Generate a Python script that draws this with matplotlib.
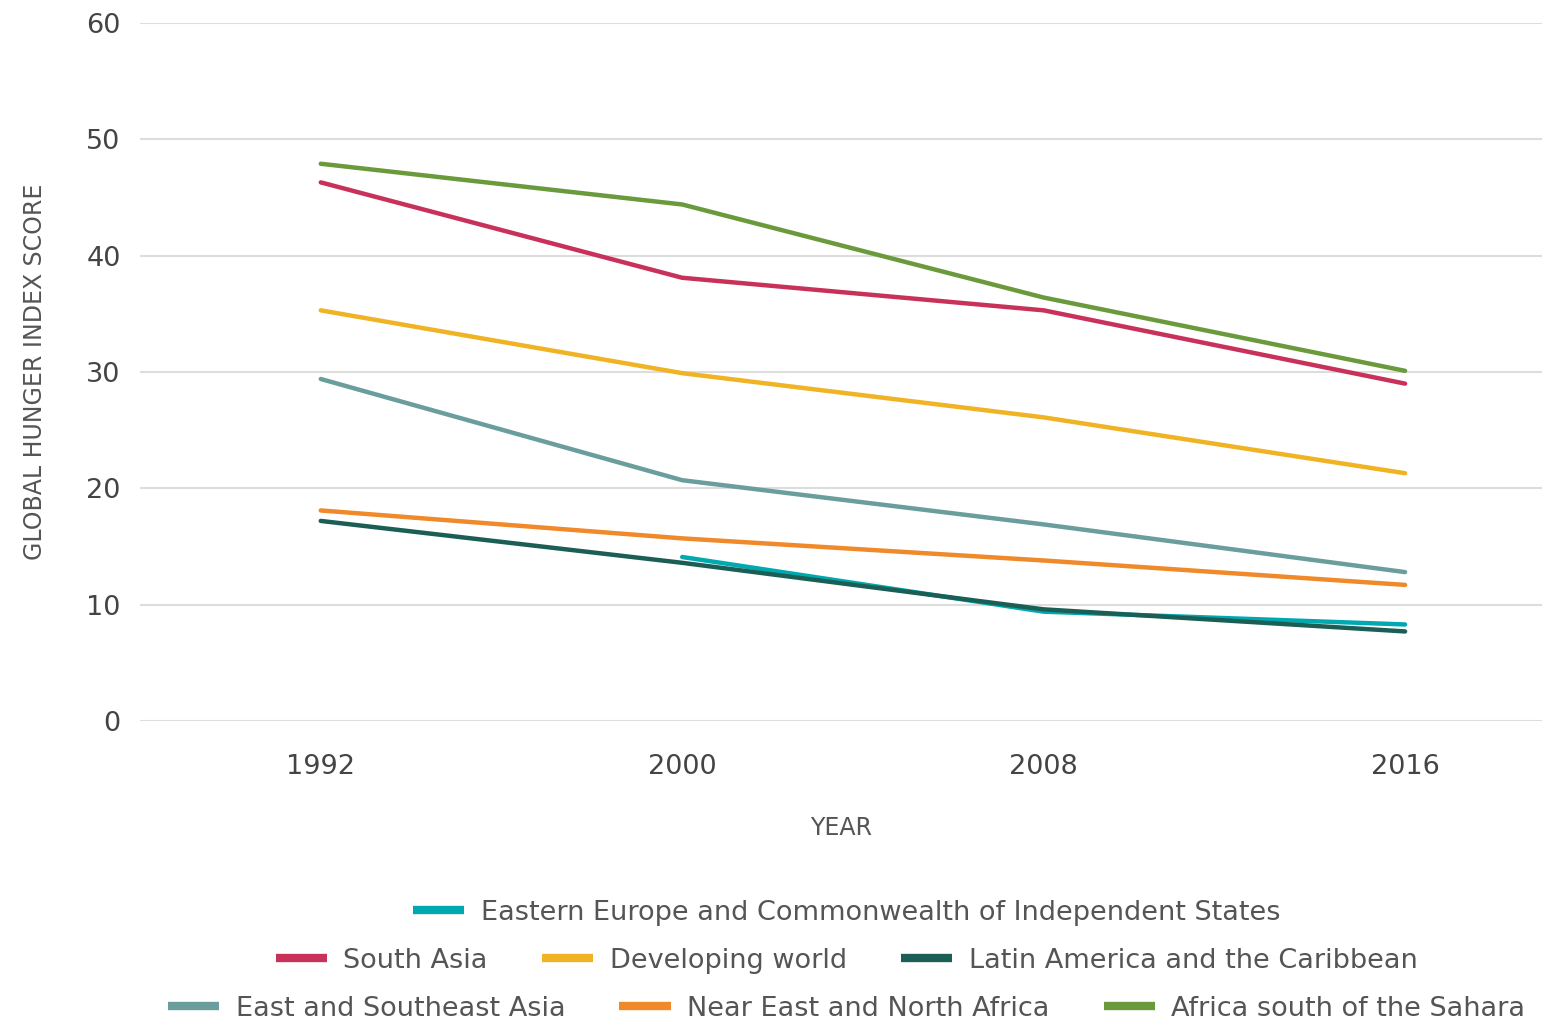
import matplotlib.pyplot as plt

# Global Hunger Index scores by region
years = [1992, 2000, 2008, 2016]

africa_south = [47.9, 44.4, 36.4, 30.1]
south_asia = [46.3, 38.1, 35.3, 29.0]
developing = [35.3, 29.9, 26.1, 21.3]
east_se_asia = [29.4, 20.7, 16.9, 12.8]
near_east = [18.1, 15.7, 13.8, 11.7]
latin_am = [17.2, 13.6, 9.6, 7.7]
east_europe_years = [2000, 2008, 2016]
east_europe = [14.1, 9.4, 8.3]

plt.rcParams['font.family'] = ['DejaVu Sans']
grey = '#555555'

fig = plt.figure(figsize=(15.42, 10.21), dpi=100)
ax = fig.add_axes([0.0908, 0.2938, 0.9092, 0.6837])

lw = 3.2
l_ee, = ax.plot(east_europe_years, east_europe, color='#00A9B0', lw=lw, solid_capstyle='round')
l_sa, = ax.plot(years, south_asia, color='#C8325A', lw=lw, solid_capstyle='round')
l_dw, = ax.plot(years, developing, color='#F0B323', lw=lw, solid_capstyle='round')
l_la, = ax.plot(years, latin_am, color='#1A5E55', lw=lw, solid_capstyle='round')
l_es, = ax.plot(years, east_se_asia, color='#6A9E9D', lw=lw, solid_capstyle='round')
l_ne, = ax.plot(years, near_east, color='#F0892A', lw=lw, solid_capstyle='round')
l_af, = ax.plot(years, africa_south, color='#6A9A3C', lw=lw, solid_capstyle='round')

ax.set_xlim(1988, 2019.03)
ax.set_ylim(0, 60)
ax.set_xticks(years)
ax.set_yticks(range(0, 61, 10))
ax.grid(axis='y', color='#dddddd', lw=1.5)
ax.set_axisbelow(True)
for s in ax.spines.values():
    s.set_visible(False)
ax.tick_params(length=0, labelsize=19.5, colors='#444444', pad=14)
ax.tick_params(axis='x', pad=24)

ax.set_xlabel('YEAR', fontsize=17, color=grey, labelpad=26)
ax.set_ylabel('GLOBAL HUNGER INDEX SCORE', fontsize=17, color=grey, labelpad=28)

# legend in three centred rows
rows = [
    ([l_ee], ['Eastern Europe and Commonwealth of Independent States'], 0.106),
    ([l_sa, l_dw, l_la], ['South Asia', 'Developing world', 'Latin America and the Caribbean'], 0.059),
    ([l_es, l_ne, l_af], ['East and Southeast Asia', 'Near East and North Africa', 'Africa south of the Sahara'], 0.012),
]
for handles, labels, ypos in rows:
    leg = fig.legend(handles, labels, loc='center', bbox_to_anchor=(0.549, ypos),
                     ncol=len(handles), frameon=False, fontsize=19.5,
                     handlelength=1.9, handletextpad=0.6, columnspacing=2.0,
                     labelcolor=grey)
    for h in leg.legend_handles:
        h.set_linewidth(6)
        h.set_solid_capstyle('butt')

fig.savefig('out.png', dpi=100)
